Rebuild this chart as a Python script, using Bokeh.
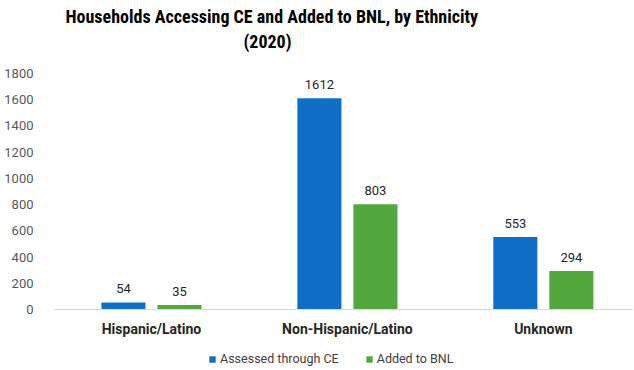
from bokeh.plotting import figure
from bokeh.models import (ColumnDataSource, Range1d, LabelSet, Legend, LegendItem,
                          Title, FixedTicker, NumeralTickFormatter)
from bokeh.core.properties import value
from bokeh.embed import file_html
from bokeh.resources import INLINE

# Chart data
categories = ["Hispanic/Latino", "Non-Hispanic/Latino", "Unknown"]
assessed = [54, 1612, 553]
added = [35, 803, 294]
y_ticks = [0, 200, 400, 600, 800, 1000, 1200, 1400, 1600, 1800]

BLUE = "#0F6FC6"
GREEN = "#52A83C"
TITLE_FONT = "Roboto Condensed"
FONT = "Roboto"

idx = list(range(len(categories)))
bar_w = 0.225
shift = 0.143

# plot area layout: value axis spans 236 px, with 61 px kept below zero
# for the category labels and the legend
Y_MAX = 1800
AXIS_PX = 236
BELOW_PX = 61
y_start = -Y_MAX * BELOW_PX / AXIS_PX

src_a = ColumnDataSource(dict(x=[i - shift for i in idx], top=assessed,
                              lbl=[str(v) for v in assessed]))
src_b = ColumnDataSource(dict(x=[i + shift for i in idx], top=added,
                              lbl=[str(v) for v in added]))

p = figure(width=634, height=370, output_backend="svg", toolbar_location=None,
           x_range=Range1d(-0.5, 2.46), y_range=Range1d(y_start, Y_MAX),
           min_border_left=53, min_border_right=1, min_border_top=73,
           min_border_bottom=0, outline_line_color=None)

r_a = p.vbar(x="x", top="top", width=bar_w, source=src_a, fill_color=BLUE,
             line_color=None)
r_b = p.vbar(x="x", top="top", width=bar_w, source=src_b, fill_color=GREEN,
             line_color=None)

# value labels above each bar
for src in (src_a, src_b):
    p.add_layout(LabelSet(x="x", y="top", text="lbl", source=src, y_offset=9,
                          text_align="center", text_baseline="bottom",
                          text_font=value(FONT), text_font_size=value("13px"),
                          text_color="#262626"))

p.xgrid.visible = False
p.ygrid.visible = False

# category axis drawn along the zero line
p.xaxis.fixed_location = 0
p.xaxis.ticker = FixedTicker(ticks=idx)
p.xaxis.major_label_overrides = {i: c for i, c in zip(idx, categories)}
p.xaxis.major_tick_line_color = None
p.xaxis.minor_tick_line_color = None
p.xaxis.axis_line_color = "#D9D9D9"
p.xaxis.major_label_text_font = FONT
p.xaxis.major_label_text_font_style = "bold"
p.xaxis.major_label_text_font_size = "14px"
p.xaxis.major_label_text_color = "#262626"
p.xaxis.major_label_standoff = 5

p.yaxis.ticker = FixedTicker(ticks=y_ticks)
p.yaxis.formatter = NumeralTickFormatter(format="0")
p.yaxis.axis_line_color = None
p.yaxis.major_tick_line_color = None
p.yaxis.minor_tick_line_color = None
p.yaxis.major_label_text_font = FONT
p.yaxis.major_label_text_font_size = "13px"
p.yaxis.major_label_text_color = "#595959"
p.yaxis.major_label_standoff = 14

# legend along the bottom edge
legend = Legend(items=[LegendItem(label="Assessed through CE", renderers=[r_a]),
                       LegendItem(label="Added to BNL", renderers=[r_b])],
                orientation="horizontal", location=(155, 4),
                label_text_font=FONT, label_text_font_size="12.5px",
                label_text_color="#404040", glyph_width=8, glyph_height=8,
                spacing=26, label_standoff=4, border_line_color=None,
                background_fill_alpha=0, padding=0, margin=0)
p.add_layout(legend)

# two-line heading; the blank title leaves a gap above the plot area
p.add_layout(Title(text=" ", text_font_size="1px", standoff=16), "above")
p.add_layout(Title(text="(2020)", align="left", offset=190, standoff=5,
                   text_font=TITLE_FONT, text_font_size="18px",
                   text_font_style="bold", text_color="#000000"), "above")
p.add_layout(Title(text="Households Accessing CE and Added to BNL, by Ethnicity",
                   align="left", offset=12, standoff=0,
                   text_font=TITLE_FONT, text_font_size="18px",
                   text_font_style="bold", text_color="#000000"), "above")

open("out.html", "w").write(file_html(p, INLINE))
